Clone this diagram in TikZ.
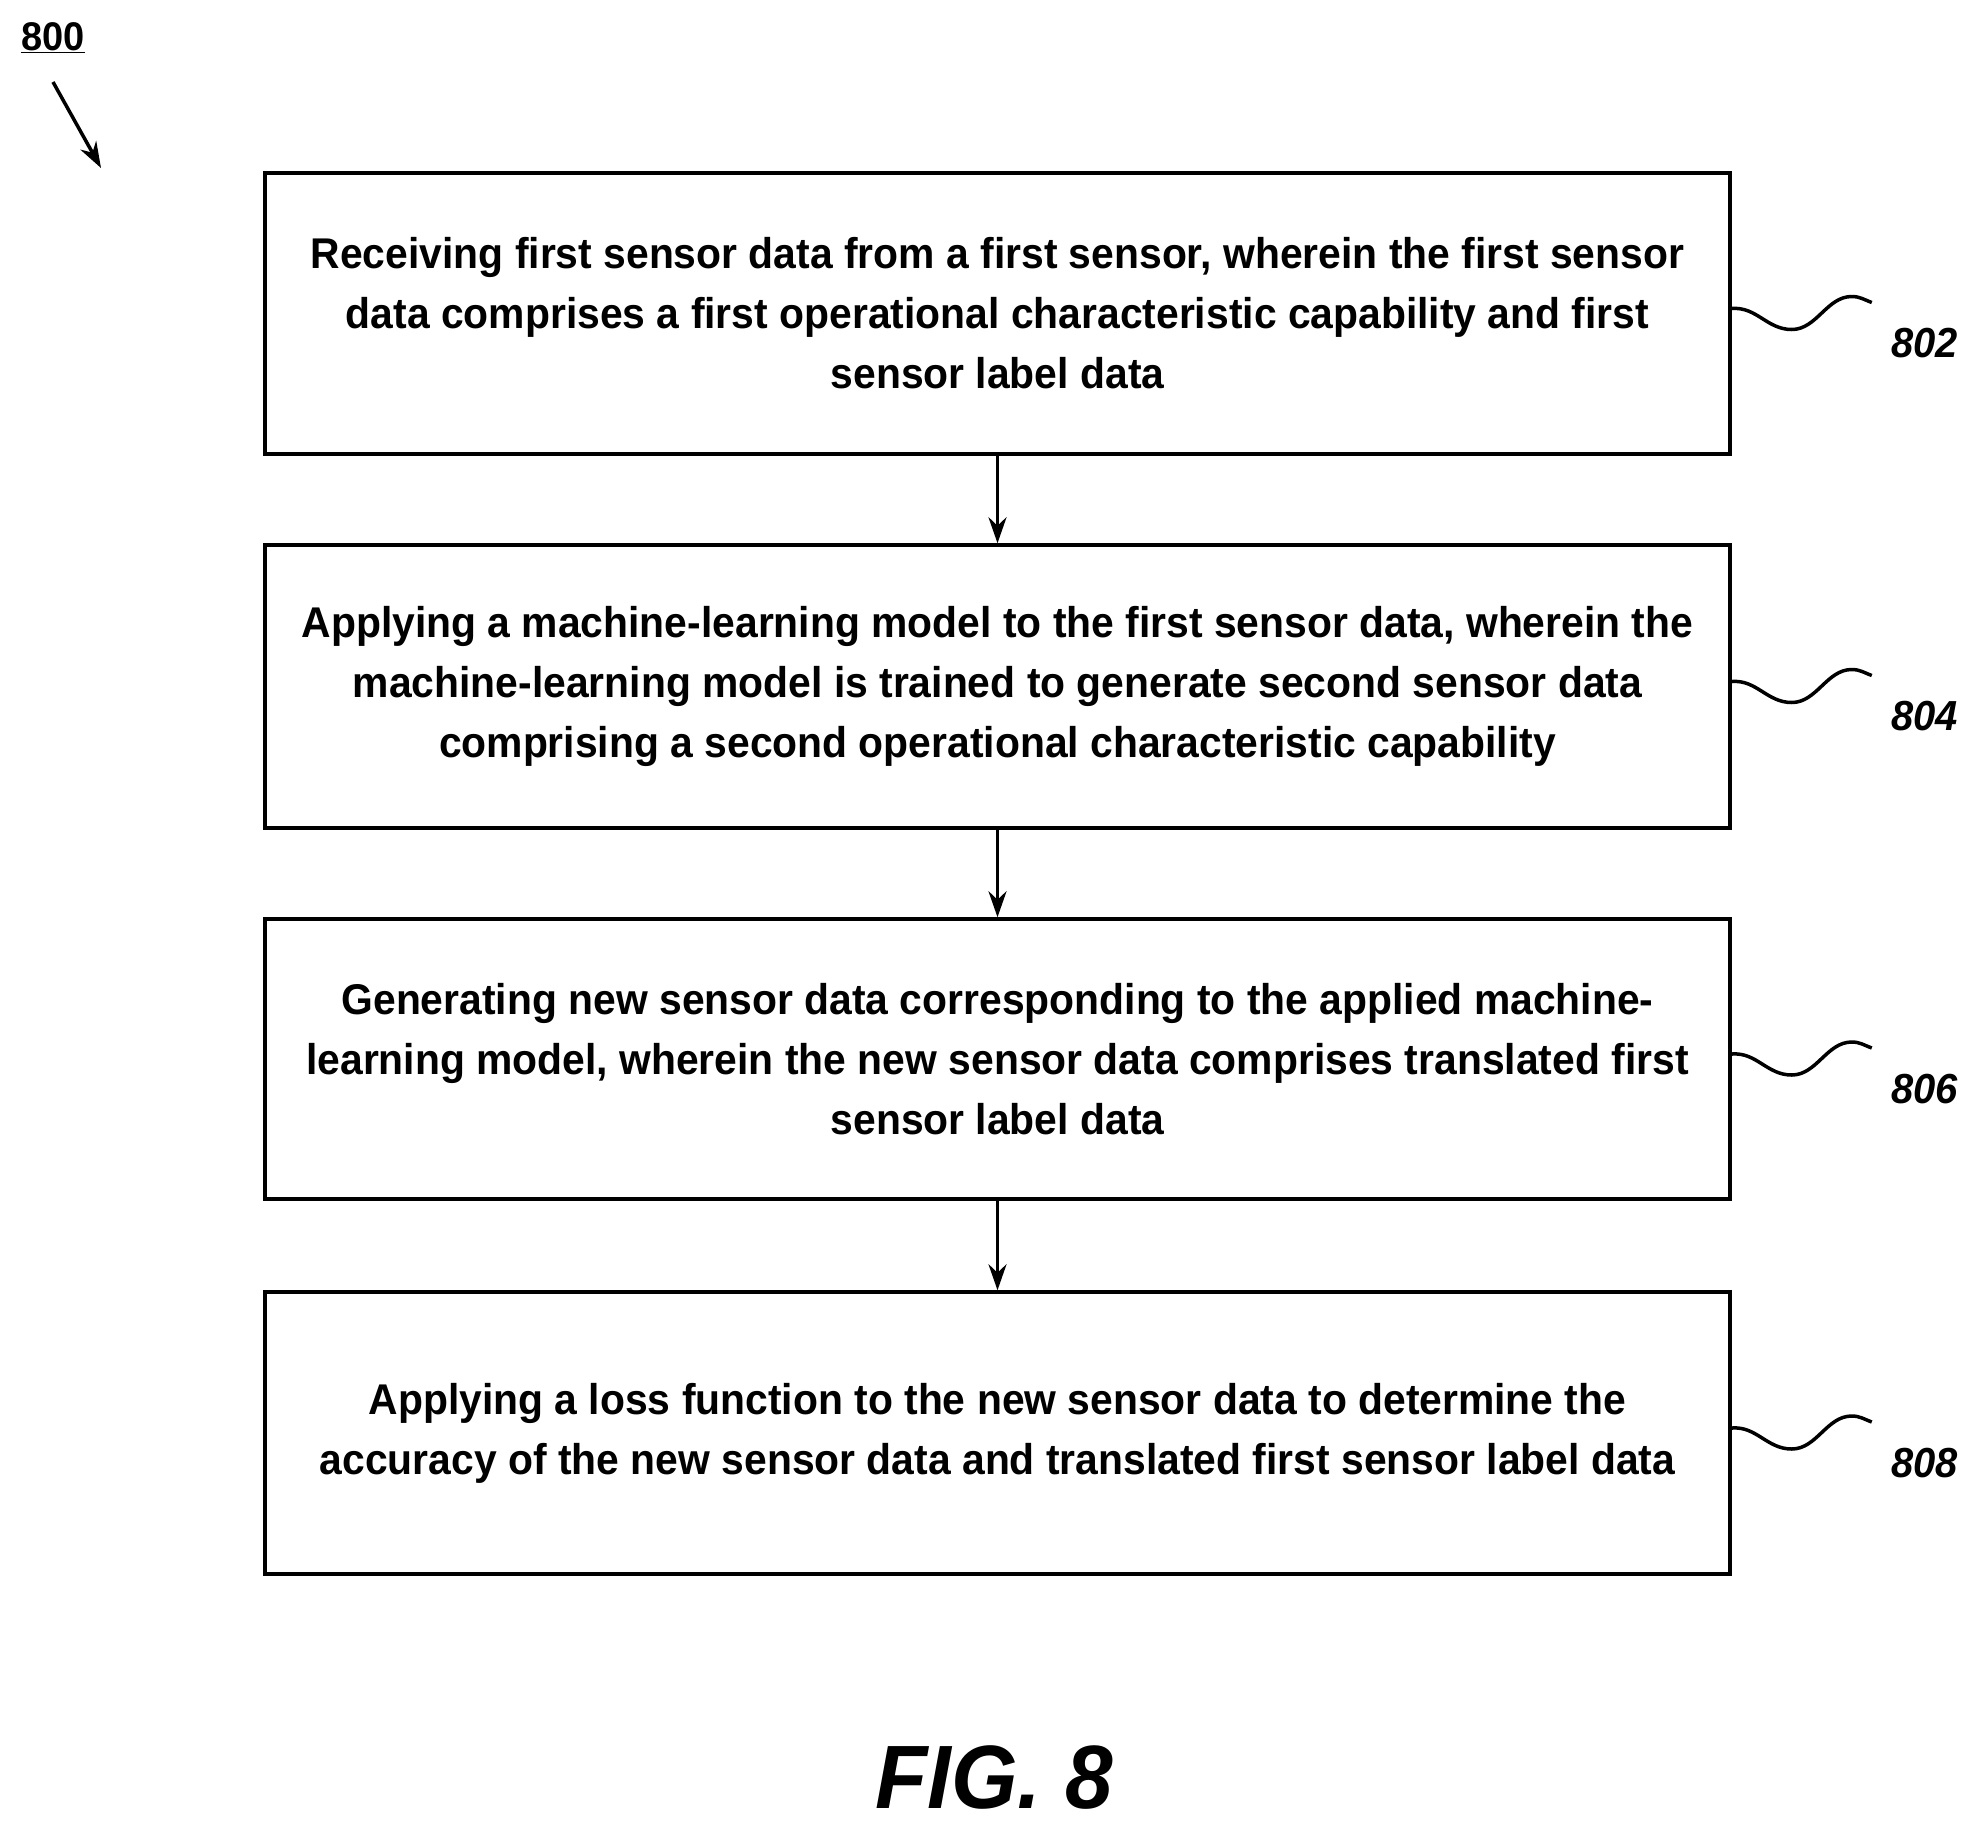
\documentclass[tikz,border=0pt]{standalone}
\usepackage{fontspec}
\usetikzlibrary{arrows.meta}
\setmainfont{Liberation Sans}[FakeStretch=0.95]
\begin{document}
\begin{tikzpicture}[x=1pt,y=-1pt,
  box/.style={draw,line width=3.5pt,minimum width=1465pt,inner sep=0pt,font=\fontsize{43}{60}\selectfont\bfseries,align=center},
  arr/.style={-{Stealth[length=26pt,width=18pt]},line width=3.5pt},
  sq/.style={line width=3.5pt},
  lab/.style={font=\fontsize{42}{48}\selectfont\bfseries\itshape}]
\useasboundingbox (0,0) rectangle (1975,1831);
\node[lab,font=\fontsize{40}{48}\selectfont\bfseries] (n800) at (53,38) {\underline{800}};
\coordinate (a1) at (53,82); \coordinate (a2) at (101,168);
\draw[arr] (a1) -- (a2);
\node[box,minimum height=281pt] (b1) at (997.5,313.5) {Receiving first sensor data from a first sensor, wherein the first sensor\\data comprises a first operational characteristic capability and first\\sensor label data};
\node[box,minimum height=283pt] (b2) at (997.5,686.5) {Applying a machine-learning model to the first sensor data, wherein the\\machine-learning model is trained to generate second sensor data\\comprising a second operational characteristic capability};
\node[box,minimum height=280pt] (b3) at (997.5,1059) {Generating new sensor data corresponding to the applied machine-\\learning model, wherein the new sensor data comprises translated first\\sensor label data};
\node[box,minimum height=282pt] (b4) at (997.5,1433) {Applying a loss function to the new sensor data to determine the\\accuracy of the new sensor data and translated first sensor label data};
\draw[arr] (b1.south) -- (b2.north);
\draw[arr] (b2.south) -- (b3.north);
\draw[arr] (b3.south) -- (b4.north);
\foreach \b/\n in {b1/802,b2/804,b3/806,b4/808}{
  \draw[sq] ([yshift=5pt]\b.east) .. controls +(25,-2) and +(-25,0) .. ([xshift=60pt,yshift=-16pt]\b.east)
     .. controls +(25,0) and +(-25,0) .. ([xshift=120pt,yshift=17pt]\b.east)
     .. controls +(8,0) and +(-8,-3) .. ([xshift=140pt,yshift=11pt]\b.east);
  \node[lab] (l\n) at ([xshift=193pt,yshift=-30pt]\b.east) {\n};
}
\node[font=\fontsize{90}{100}\selectfont\bfseries\itshape] (fig) at (994,1777) {FIG. 8};
\end{tikzpicture}
\end{document}
